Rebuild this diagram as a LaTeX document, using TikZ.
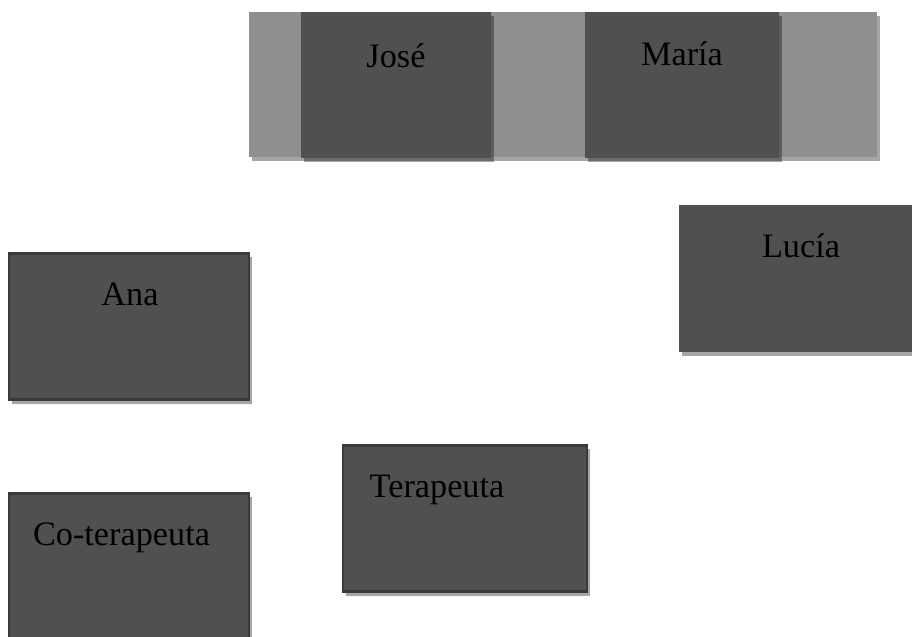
\documentclass[tikz,border=0pt]{standalone}
\usepackage{fontspec}
\setmainfont{Liberation Serif}
\usetikzlibrary{shadows}
\definecolor{boxgray}{HTML}{505050}
\definecolor{bandgray}{HTML}{8F8F8F}
\definecolor{rimgray}{HTML}{3A3A3A}
\begin{document}
\begin{tikzpicture}[
  shade/.style={drop shadow={shadow xshift=1.5pt, shadow yshift=-2.2pt, fill=black, opacity=0.35}},
  seat/.style={rectangle, fill=boxgray, shade, inner sep=0pt, minimum height=2.93cm},
  rim/.style={draw=rimgray, line width=1.6pt},
  who/.style={anchor=base, inner sep=0pt, font=\fontsize{19.5}{22}\selectfont, text=black}]
  \useasboundingbox (0,0) rectangle (18.24,-12.74);
  % couple band
  \node[rectangle, fill=bandgray, shade, inner sep=0pt, minimum width=12.56cm, minimum height=2.9cm] (band) at (11.26,-1.69) {};
  % José
  \node[seat, minimum width=3.8cm] (jose) at (7.92,-1.70) {};
  \node[who] (josetxt) at (7.92,-1.36) {José};
  % María
  \node[seat, minimum width=3.88cm] (maria) at (13.64,-1.70) {};
  \node[who] (mariatxt) at (13.64,-1.32) {María};
  % Lucía
  \node[seat, minimum width=4.92cm] (lucia) at (16.04,-5.57) {};
  \node[who] (luciatxt) at (16.02,-5.16) {Lucía};
  % Ana
  \node[seat, rim, minimum width=4.8cm] (ana) at (2.58,-6.53) {};
  \node[who] (anatxt) at (2.60,-6.12) {Ana};
  % Terapeuta
  \node[seat, rim, minimum width=4.88cm] (tera) at (9.30,-10.37) {};
  \node[who] (teratxt) at (8.74,-9.96) {Terapeuta};
  % Co-terapeuta
  \node[seat, rim, minimum width=4.8cm] (cotera) at (2.58,-11.33) {};
  \node[who] (coteratxt) at (2.43,-10.92) {Co-terapeuta};
\end{tikzpicture}
\end{document}
